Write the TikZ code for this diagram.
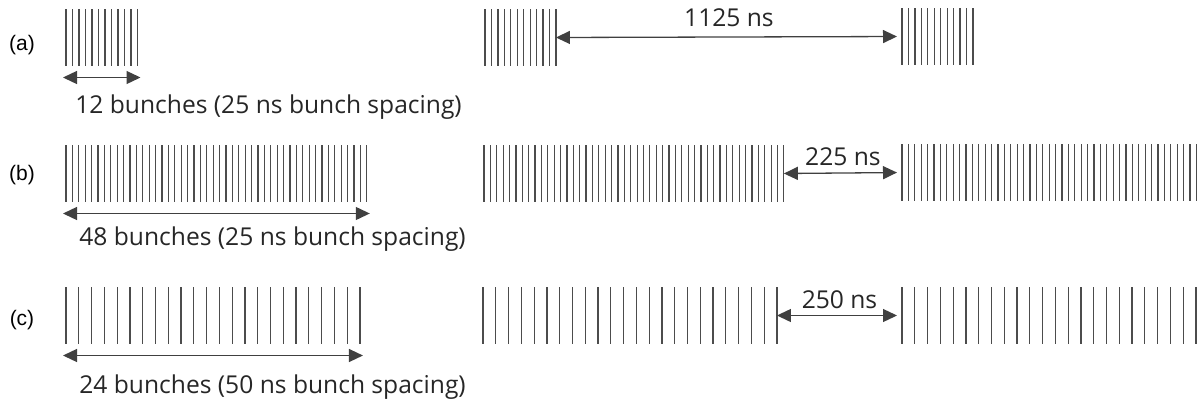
\documentclass[tikz,border=0pt]{standalone}
\usepackage{fontspec}
\setmainfont{Open Sans}
\newfontfamily\tagfont{Liberation Sans}
\usetikzlibrary{arrows.meta}

\begin{document}
\begin{tikzpicture}[
x=0.5pt,
y=-0.5pt,
bunch/.style={
  line width=0.6pt,
  draw=black!70
  },
span/.style={
  <->,
  line width=0.65pt,
  draw=black!75
  },
gap/.style={
  span,
  shorten >=2.5pt
  },
tag/.style={
  font=\tagfont\fontsize{10.5}{12}\selectfont,
  inner sep=0pt
  },
note/.style={
  font=\fontsize{12.3}{14}\selectfont,
  text=black!85,
  inner sep=0pt,
  anchor=base west
  },
>={Triangle[length=7pt,width=6.5pt]}
]
\useasboundingbox (0,0) rectangle (1200,402);
% bunch trains: name/left/top/count/spacing
\foreach \nm/\x/\y/\n/\d in {a1/66/9/12/6.5, a2/485/9/12/6.45, a3/902/8/12/6.45,
  b1/66/145/48/6.4, b2/484/145/48/6.38, b3/902/144/48/6.4,
  c1/66/287/24/12.78, c2/483/287/24/12.78, c3/902/287/24/12.78}
{
  \foreach \k in {1,...,\n}
    \draw[bunch] ({\x+(\k-1)*\d},\y) -- ++(0,57);
  \coordinate (\nm-w) at (\x,\y+28.5);
  \coordinate (\nm-e) at ({\x+(\n-1)*\d},\y+28.5);
  \coordinate (\nm-bl) at (\x-3,\y+68.5);
  \coordinate (\nm-br) at ({\x+(\n-1)*\d+3},\y+68.5);
}
\node[tag] (ta) at (22,45) {(a)};
\node[tag] (tb) at (22,175) {(b)};
\node[tag] (tc) at (22,320) {(c)};
\draw[span] (a1-bl) -- (a1-br);
\draw[span] (b1-bl) -- (b1-br);
\draw[span] (c1-bl) -- (c1-br);
\node[note] (na) at (75,113) {12 bunches (25 ns bunch spacing)};
\node[note] (nb) at (79,245) {48 bunches (25 ns bunch spacing)};
\node[note] (nc) at (79,393) {24 bunches (50 ns bunch spacing)};
\draw[gap] (a2-e) -- node[note,anchor=base,yshift=5.5pt] (la) {1125 ns} (a3-w);
\draw[gap] (b2-e) -- node[note,anchor=base,yshift=4pt] (lb) {225 ns} (b3-w);
\draw[gap] (c2-e) -- node[note,anchor=base,yshift=3.5pt] (lc) {250 ns} (c3-w);
\end{tikzpicture}
\end{document}
